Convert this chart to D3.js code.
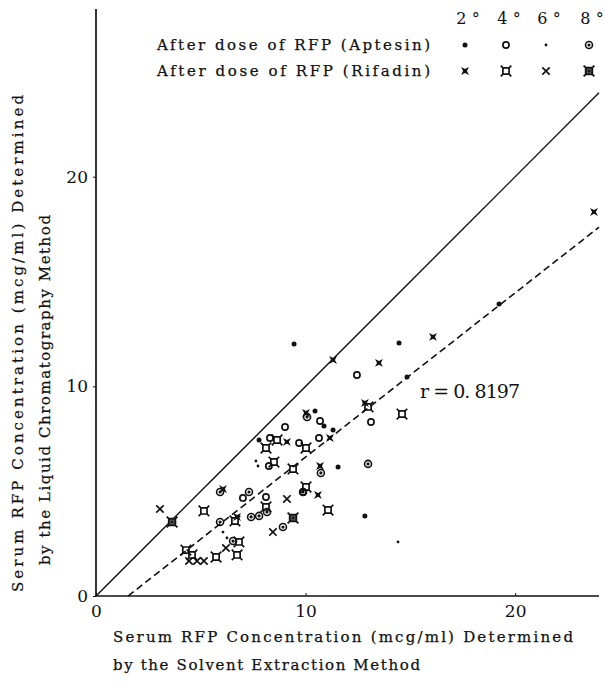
<!DOCTYPE html>
<html>
<head>
<meta charset="utf-8">
<script src="https://cdn.jsdelivr.net/npm/d3@7"></script>
<style>
  html, body { margin: 0; padding: 0; background: #fff; }
  svg { display: block; }
  text { font-family: "DejaVu Serif", "Liberation Serif", serif; fill: #111; }
  .lbl { stroke: #111; stroke-width: 0.25; }
</style>
</head>
<body>
<svg id="chart" width="605" height="683"></svg>
<script>
// Serum RFP concentration: solvent extraction (x) vs liquid chromatography (y), mcg/ml
const xTicks = [0, 10, 20];
const yTicks = [0, 10, 20];
const hours = ["2°", "4°", "6°", "8°"];
const groups = ["After dose of RFP (Aptesin)", "After dose of RFP (Rifadin)"];

// Aptesin
const apt2 = [[9.45,12.02],[14.46,12.07],[19.23,13.93],[10.45,8.83],[10.88,8.11],[7.78,7.44],
  [11.31,7.92],[11.55,6.15],[14.84,10.45],[12.83,3.82]];
const apt4 = [[9.02,8.06],[10.69,8.35],[13.12,8.30],[12.45,10.54],[10.64,7.54],[9.69,7.30],
  [8.30,7.54],[8.25,6.20],[9.88,4.96],[8.11,4.72],[7.01,4.68]];
const apt6 = [[7.63,6.44],[7.73,6.20],[14.41,2.58],[6.06,3.05],[6.25,2.77]];
const apt8 = [[10.07,8.54],[10.73,5.87],[12.98,6.30],[5.92,4.96],[7.30,4.96],[9.88,4.96],
  [5.92,3.53],[7.40,3.77],[7.78,3.82],[8.16,4.01],[8.92,3.29],[6.54,2.62]];
// Rifadin
const rif2 = [[10.02,8.73],[11.31,11.26],[13.50,11.12],[16.08,12.36],[23.76,18.32],[12.83,9.21],
  [9.11,7.35],[11.16,7.54],[10.69,6.20],[6.06,5.10],[10.59,4.82],[6.73,3.77]];
const rif4 = [[8.64,7.44],[8.11,7.06],[8.49,6.39],[9.40,6.06],[10.02,5.20],[12.98,9.02],
  [14.60,8.68],[11.07,4.10],[5.15,4.06],[8.11,4.25],[4.29,2.19],[4.58,1.96],[5.73,1.86],
  [6.73,1.96],[6.82,2.58],[6.63,3.58],[10.02,7.06]];
const rif6 = [[3.05,4.15],[9.11,4.63],[8.44,3.05],[6.20,2.29],[4.44,1.67],[4.82,1.67],[5.15,1.67]];
const rif8 = [[3.63,3.53],[9.40,3.72]];

// Identity line and regression line (r = 0.8197)
const identity = [[0,0],[24,24]];
const regSlope = 0.783, regIntercept = -1.2;
const regX = [1.53, 24];
const rText = "r = 0. 8197";

const svg = d3.select("#chart");
const x = d3.scaleLinear().domain([0, 24]).range([96, 599]);
const y = d3.scaleLinear().domain([0, 28]).range([596, 9]);

// Axes
svg.append("line").attr("x1", x(0)).attr("x2", x(0)).attr("y1", y(28)).attr("y2", y(0))
  .attr("stroke", "#111").attr("stroke-width", 1.7);
svg.append("line").attr("x1", x(0)).attr("x2", x(24)).attr("y1", y(0)).attr("y2", y(0))
  .attr("stroke", "#111").attr("stroke-width", 1.7);

const xAxis = svg.append("g").attr("transform", `translate(0,${y(0)})`)
  .call(d3.axisBottom(x).tickValues(xTicks).tickSize(-3).tickPadding(9).tickFormat(d3.format("d")));
xAxis.select(".domain").remove();
xAxis.selectAll("text").attr("font-size", 17).attr("font-family", "Liberation Serif").attr("fill", "#111");
xAxis.selectAll("line").attr("stroke", "#111");

const yAxis = svg.append("g").attr("transform", `translate(${x(0)},0)`)
  .call(d3.axisLeft(y).tickValues(yTicks).tickSize(3).tickPadding(5).tickFormat(d3.format("d")));
yAxis.select(".domain").remove();
yAxis.selectAll("text").attr("font-size", 17).attr("font-family", "Liberation Serif").attr("fill", "#111");
yAxis.selectAll("line").attr("stroke", "#111");

// Reference lines
const line = d3.line().x(d => x(d[0])).y(d => y(d[1]));
svg.append("path").datum(identity).attr("d", line)
  .attr("fill", "none").attr("stroke", "#111").attr("stroke-width", 1.4);
svg.append("path").datum(regX.map(v => [v, regSlope * v + regIntercept])).attr("d", line)
  .attr("fill", "none").attr("stroke", "#111").attr("stroke-width", 1.6)
  .attr("stroke-dasharray", "7,4");

svg.append("text").attr("x", 420).attr("y", 398).attr("font-size", 19)
  .attr("font-family", "Liberation Serif")
  .attr("textLength", 100).attr("lengthAdjust", "spacing").text(rText);

// Marker shapes
function star4(R, r) {
  const pts = [];
  for (let i = 0; i < 8; i++) {
    const a = Math.PI / 4 + i * Math.PI / 4;
    const rad = i % 2 === 0 ? R : r;
    pts.push([rad * Math.cos(a), rad * Math.sin(a)]);
  }
  return "M" + pts.map(p => p.join(",")).join("L") + "Z";
}
function sqStar(h, R) {
  return `M${-h},${-h}H${h}V${h}H${-h}Z` +
    `M${-h},${-h}L${-R},${-R}M${h},${-h}L${R},${-R}M${h},${h}L${R},${R}M${-h},${h}L${-R},${R}`;
}

const markers = {
  apt2: g => g.append("circle").attr("r", 2.5).attr("fill", "#111"),
  apt4: g => g.append("circle").attr("r", 3.1).attr("fill", "none").attr("stroke", "#111").attr("stroke-width", 1.7),
  apt6: g => g.append("circle").attr("r", 1.4).attr("fill", "#111"),
  apt8: g => { g.append("circle").attr("r", 3.5).attr("fill", "none").attr("stroke", "#111").attr("stroke-width", 1.6);
               g.append("circle").attr("r", 1.6).attr("fill", "#111"); },
  rif2: g => g.append("path").attr("d", star4(5.6, 1.9)).attr("fill", "#111"),
  rif4: g => g.append("path").attr("d", sqStar(3.1, 5.3)).attr("fill", "none").attr("stroke", "#111").attr("stroke-width", 1.7),
  rif6: g => g.append("path").attr("d", "M-3.7,-3.7L3.7,3.7M3.7,-3.7L-3.7,3.7").attr("stroke", "#111").attr("stroke-width", 1.7),
  rif8: g => { g.append("path").attr("d", sqStar(3.3, 5.4)).attr("fill", "#555").attr("stroke", "#111").attr("stroke-width", 1.8);
               g.append("circle").attr("r", 1.3).attr("fill", "#111"); }
};

const series = [["apt2", apt2], ["apt4", apt4], ["apt6", apt6], ["apt8", apt8],
                ["rif2", rif2], ["rif4", rif4], ["rif6", rif6], ["rif8", rif8]];
series.forEach(([key, data]) => {
  svg.append("g").selectAll("g").data(data).join("g")
    .attr("transform", d => `translate(${x(d[0])},${y(d[1])})`)
    .each(function () { markers[key](d3.select(this)); });
});

// Legend
const legX = [465, 506, 546, 589];
hours.forEach((h, i) => {
  svg.append("text").attr("x", legX[i] + 3).attr("y", 24).attr("text-anchor", "middle")
    .attr("font-size", 16).attr("font-family", "Liberation Serif").text(h.replace("°", " °"));
});
const legRows = [[groups[0], ["apt2", "apt4", "apt6", "apt8"], 50],
                 [groups[1], ["rif2", "rif4", "rif6", "rif8"], 76]];
legRows.forEach(([label, keys, yy]) => {
  svg.append("text").attr("class", "lbl").attr("x", 157).attr("y", yy).attr("font-size", 15)
    .attr("textLength", 273).attr("lengthAdjust", "spacing").text(label);
  keys.forEach((k, i) => {
    const g = svg.append("g").attr("transform", `translate(${legX[i]},${yy - 5})`);
    markers[k](g);
  });
});

// Axis titles
svg.append("text").attr("class", "lbl").attr("x", 113).attr("y", 642).attr("font-size", 15)
  .attr("textLength", 460).attr("lengthAdjust", "spacing")
  .text("Serum RFP Concentration (mcg/ml) Determined");
svg.append("text").attr("class", "lbl").attr("x", 113).attr("y", 670).attr("font-size", 15)
  .attr("textLength", 307).attr("lengthAdjust", "spacing")
  .text("by the Solvent Extraction Method");

svg.append("text").attr("class", "lbl").attr("transform", "translate(23,592) rotate(-90)").attr("font-size", 15)
  .attr("textLength", 497).attr("lengthAdjust", "spacing")
  .text("Serum RFP Concentration (mcg/ml) Determined");
svg.append("text").attr("class", "lbl").attr("transform", "translate(50,565) rotate(-90)").attr("font-size", 15)
  .attr("textLength", 350).attr("lengthAdjust", "spacing")
  .text("by the Liquid Chromatography Method");
</script>
</body>
</html>
